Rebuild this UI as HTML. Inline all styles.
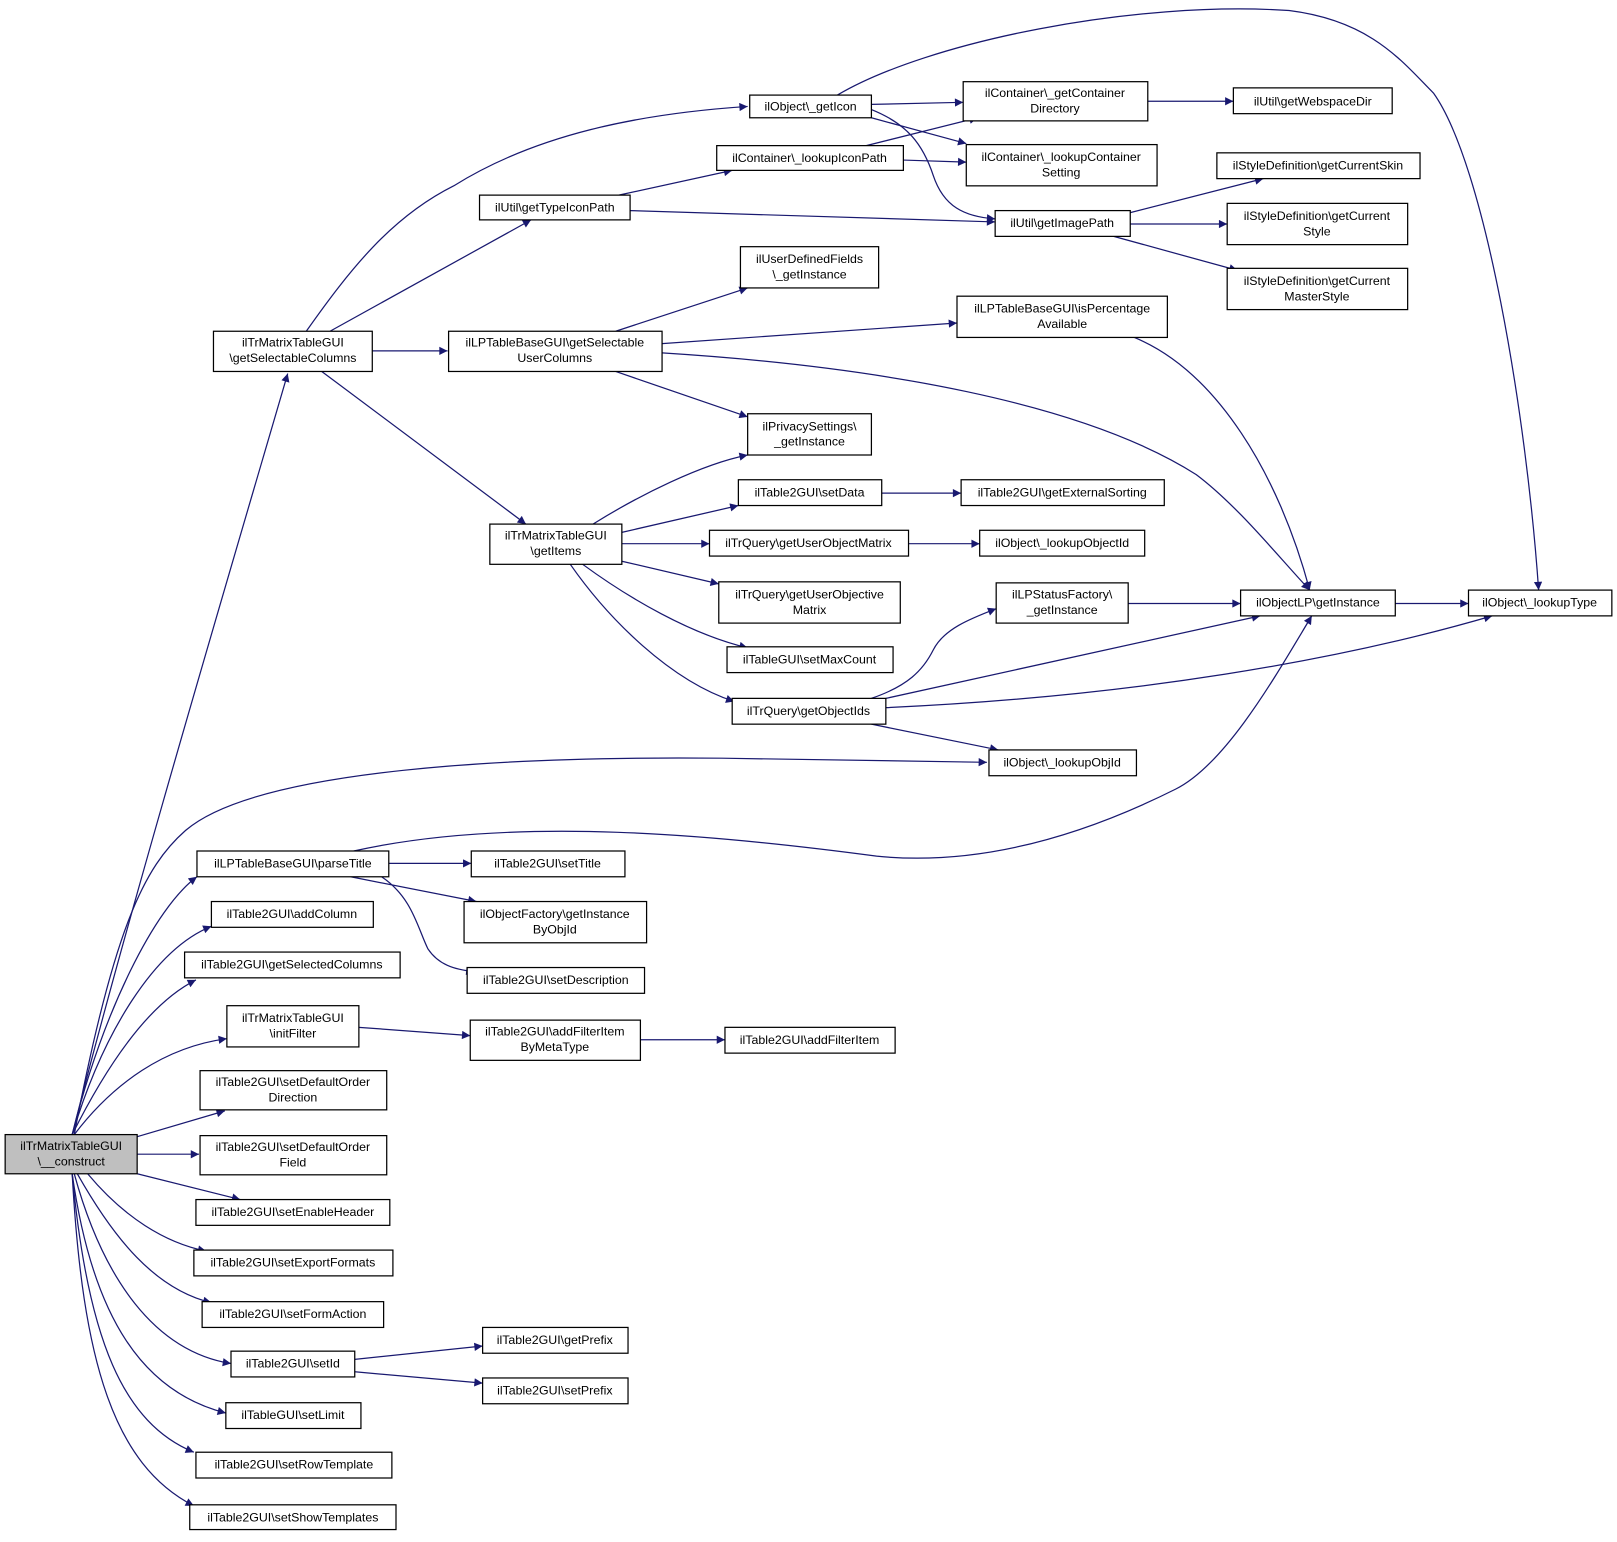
<!DOCTYPE html>
<html><head><meta charset="utf-8"><style>
html,body{margin:0;padding:0;background:#fff}
svg text{font-family:"Liberation Sans",Arial,sans-serif;font-size:12px;fill:#000}
.b{fill:#fff;stroke:#000;stroke-width:1.2}
.e{fill:none;stroke:#191970;stroke-width:1.2;marker-end:url(#a)}
</style></head><body>
<svg width="1617" height="1537" viewBox="0 0 1568 1490" xmlns="http://www.w3.org/2000/svg">
<defs><marker id="a" viewBox="0 0 10 10" refX="10" refY="5" markerWidth="10" markerHeight="8" markerUnits="userSpaceOnUse" orient="auto"><path d="M0,0 L10,5 L0,10 z" fill="#191970"/></marker></defs>
<g>
<path class="e" d="M70,1100 C120,900 230,530 279,362"/>
<path class="e" d="M72,1100 C110,900 140,840 180,805 C250,745 500,733 700,735 L957,739"/>
<path class="e" d="M70,1100 C100,980 150,880 191,850"/>
<path class="e" d="M70,1100 C100,1000 150,920 205,898"/>
<path class="e" d="M70,1100 C110,1020 150,970 190,950"/>
<path class="e" d="M72,1100 C110,1050 160,1015 220,1007"/>
<path class="e" d="M133,1102 L218,1077"/>
<path class="e" d="M133,1119 L193,1119"/>
<path class="e" d="M133,1138 L233,1163"/>
<path class="e" d="M85,1138 C120,1180 160,1205 200,1213"/>
<path class="e" d="M75,1138 C110,1200 150,1250 205,1263"/>
<path class="e" d="M72,1138 C100,1240 150,1310 224,1322"/>
<path class="e" d="M70,1138 C90,1280 140,1350 219,1370"/>
<path class="e" d="M70,1138 C85,1300 120,1380 188,1408"/>
<path class="e" d="M70,1138 C80,1320 110,1420 188,1460"/>
<path class="e" d="M297,321 C340,260 380,210 440,180 C520,130 620,110 725,103"/>
<path class="e" d="M320,321 L515,213"/>
<path class="e" d="M361,340 L434,340"/>
<path class="e" d="M312,360 L510,508"/>
<path class="e" d="M597,321 L725,279"/>
<path class="e" d="M642,333 L928,313"/>
<path class="e" d="M597,360 L725,404"/>
<path class="e" d="M642,342 C850,355 1050,390 1160,460 C1200,490 1240,540 1270,572"/>
<path class="e" d="M575,508 C620,480 680,450 725,441"/>
<path class="e" d="M603,516 L716,490"/>
<path class="e" d="M603,527 L688,527"/>
<path class="e" d="M603,544 L697,566"/>
<path class="e" d="M565,547 C610,580 670,615 725,628"/>
<path class="e" d="M553,547 C590,600 650,660 712,680"/>
<path class="e" d="M845,101 L934,99"/>
<path class="e" d="M845,114 L937,139"/>
<path class="e" d="M812,92 C900,40 1100,0 1250,10 C1330,20 1360,60 1390,90 C1440,160 1480,400 1492,572"/>
<path class="e" d="M845,106 C880,120 895,140 905,170 C915,200 935,210 965,212"/>
<path class="e" d="M840,141 L948,114"/>
<path class="e" d="M876,155 L937,157"/>
<path class="e" d="M600,189 L710,165"/>
<path class="e" d="M611,204 L965,215"/>
<path class="e" d="M1113,98 L1196,98"/>
<path class="e" d="M1096,206 L1225,173"/>
<path class="e" d="M1096,217 L1190,217"/>
<path class="e" d="M1080,229 L1200,262"/>
<path class="e" d="M1100,327 C1180,360 1240,460 1270,572"/>
<path class="e" d="M855,478 L932,478"/>
<path class="e" d="M881,527 L950,527"/>
<path class="e" d="M1094,585 L1203,585"/>
<path class="e" d="M1353,585 L1424,585"/>
<path class="e" d="M845,677 C880,665 895,650 905,630 C915,610 940,600 966,590"/>
<path class="e" d="M859,677 L1222,597"/>
<path class="e" d="M859,686 C1100,675 1300,640 1447,597"/>
<path class="e" d="M845,702 L968,727"/>
<path class="e" d="M343,825 C500,790 700,810 850,830 C950,840 1050,810 1140,765 C1190,740 1240,650 1272,597"/>
<path class="e" d="M377,837 L457,837"/>
<path class="e" d="M340,850 L462,874"/>
<path class="e" d="M370,850 C400,870 405,900 415,920 C425,935 440,940 460,942"/>
<path class="e" d="M348,996 L456,1004"/>
<path class="e" d="M621,1008 L703,1008"/>
<path class="e" d="M344,1318 L468,1305"/>
<path class="e" d="M344,1330 L468,1341"/>
</g>
<g text-anchor="middle">
<rect x="5" y="1100" width="128" height="38" fill="#bfbfbf" stroke="#000" stroke-width="1.2"/><text x="69" y="1115">ilTrMatrixTableGUI</text><text x="69" y="1130">\__construct</text>
<rect class="b" x="207" y="321" width="154" height="39"/><text x="284" y="336">ilTrMatrixTableGUI</text><text x="284" y="351">\getSelectableColumns</text>
<rect class="b" x="727" y="92" width="118" height="22"/><text x="786" y="107">ilObject\_getIcon</text>
<rect class="b" x="934" y="79" width="179" height="38"/><text x="1023" y="94">ilContainer\_getContainer</text><text x="1023" y="109">Directory</text>
<rect class="b" x="1196" y="85" width="154" height="25"/><text x="1273" y="102">ilUtil\getWebspaceDir</text>
<rect class="b" x="695" y="141" width="181" height="24"/><text x="785" y="157">ilContainer\_lookupIconPath</text>
<rect class="b" x="937" y="140" width="185" height="40"/><text x="1029" y="156">ilContainer\_lookupContainer</text><text x="1029" y="171">Setting</text>
<rect class="b" x="1180" y="148" width="197" height="25"/><text x="1278" y="164">ilStyleDefinition\getCurrentSkin</text>
<rect class="b" x="465" y="189" width="146" height="24"/><text x="538" y="205">ilUtil\getTypeIconPath</text>
<rect class="b" x="965" y="204" width="131" height="25"/><text x="1030" y="220">ilUtil\getImagePath</text>
<rect class="b" x="1190" y="197" width="175" height="40"/><text x="1277" y="213">ilStyleDefinition\getCurrent</text><text x="1277" y="228">Style</text>
<rect class="b" x="718" y="239" width="134" height="40"/><text x="785" y="255">ilUserDefinedFields</text><text x="785" y="270">\_getInstance</text>
<rect class="b" x="1190" y="260" width="175" height="40"/><text x="1277" y="276">ilStyleDefinition\getCurrent</text><text x="1277" y="291">MasterStyle</text>
<rect class="b" x="928" y="287" width="204" height="40"/><text x="1030" y="303">ilLPTableBaseGUI\isPercentage</text><text x="1030" y="318">Available</text>
<rect class="b" x="435" y="321" width="207" height="39"/><text x="538" y="336">ilLPTableBaseGUI\getSelectable</text><text x="538" y="351">UserColumns</text>
<rect class="b" x="725" y="401" width="120" height="40"/><text x="785" y="417">ilPrivacySettings\</text><text x="785" y="432">_getInstance</text>
<rect class="b" x="716" y="465" width="139" height="25"/><text x="785" y="481">ilTable2GUI\setData</text>
<rect class="b" x="932" y="465" width="197" height="25"/><text x="1030" y="481">ilTable2GUI\getExternalSorting</text>
<rect class="b" x="475" y="508" width="128" height="39"/><text x="539" y="523">ilTrMatrixTableGUI</text><text x="539" y="538">\getItems</text>
<rect class="b" x="688" y="514" width="193" height="25"/><text x="784" y="530">ilTrQuery\getUserObjectMatrix</text>
<rect class="b" x="950" y="514" width="160" height="25"/><text x="1030" y="530">ilObject\_lookupObjectId</text>
<rect class="b" x="697" y="564" width="176" height="40"/><text x="785" y="580">ilTrQuery\getUserObjective</text><text x="785" y="595">Matrix</text>
<rect class="b" x="966" y="565" width="128" height="39"/><text x="1030" y="580">ilLPStatusFactory\</text><text x="1030" y="595">_getInstance</text>
<rect class="b" x="1203" y="572" width="150" height="25"/><text x="1278" y="588">ilObjectLP\getInstance</text>
<rect class="b" x="1424" y="572" width="139" height="25"/><text x="1493" y="588">ilObject\_lookupType</text>
<rect class="b" x="705" y="627" width="161" height="25"/><text x="785" y="643">ilTableGUI\setMaxCount</text>
<rect class="b" x="710" y="677" width="149" height="25"/><text x="784" y="693">ilTrQuery\getObjectIds</text>
<rect class="b" x="959" y="727" width="143" height="25"/><text x="1030" y="743">ilObject\_lookupObjId</text>
<rect class="b" x="191" y="825" width="186" height="25"/><text x="284" y="841">ilLPTableBaseGUI\parseTitle</text>
<rect class="b" x="457" y="825" width="149" height="25"/><text x="531" y="841">ilTable2GUI\setTitle</text>
<rect class="b" x="205" y="874" width="157" height="25"/><text x="283" y="890">ilTable2GUI\addColumn</text>
<rect class="b" x="450" y="874" width="177" height="40"/><text x="538" y="890">ilObjectFactory\getInstance</text><text x="538" y="905">ByObjId</text>
<rect class="b" x="179" y="923" width="209" height="25"/><text x="283" y="939">ilTable2GUI\getSelectedColumns</text>
<rect class="b" x="453" y="938" width="172" height="25"/><text x="539" y="954">ilTable2GUI\setDescription</text>
<rect class="b" x="220" y="975" width="128" height="40"/><text x="284" y="991">ilTrMatrixTableGUI</text><text x="284" y="1006">\initFilter</text>
<rect class="b" x="456" y="989" width="165" height="39"/><text x="538" y="1004">ilTable2GUI\addFilterItem</text><text x="538" y="1019">ByMetaType</text>
<rect class="b" x="703" y="996" width="165" height="25"/><text x="785" y="1012">ilTable2GUI\addFilterItem</text>
<rect class="b" x="194" y="1038" width="181" height="38"/><text x="284" y="1053">ilTable2GUI\setDefaultOrder</text><text x="284" y="1068">Direction</text>
<rect class="b" x="194" y="1101" width="181" height="38"/><text x="284" y="1116">ilTable2GUI\setDefaultOrder</text><text x="284" y="1131">Field</text>
<rect class="b" x="190" y="1163" width="188" height="25"/><text x="284" y="1179">ilTable2GUI\setEnableHeader</text>
<rect class="b" x="188" y="1212" width="193" height="25"/><text x="284" y="1228">ilTable2GUI\setExportFormats</text>
<rect class="b" x="196" y="1262" width="176" height="25"/><text x="284" y="1278">ilTable2GUI\setFormAction</text>
<rect class="b" x="224" y="1310" width="120" height="25"/><text x="284" y="1326">ilTable2GUI\setId</text>
<rect class="b" x="468" y="1287" width="141" height="25"/><text x="538" y="1303">ilTable2GUI\getPrefix</text>
<rect class="b" x="468" y="1336" width="141" height="25"/><text x="538" y="1352">ilTable2GUI\setPrefix</text>
<rect class="b" x="219" y="1360" width="131" height="25"/><text x="284" y="1376">ilTableGUI\setLimit</text>
<rect class="b" x="190" y="1408" width="190" height="25"/><text x="285" y="1424">ilTable2GUI\setRowTemplate</text>
<rect class="b" x="184" y="1459" width="200" height="24"/><text x="284" y="1475">ilTable2GUI\setShowTemplates</text>
</g>
</svg>
</body></html>
